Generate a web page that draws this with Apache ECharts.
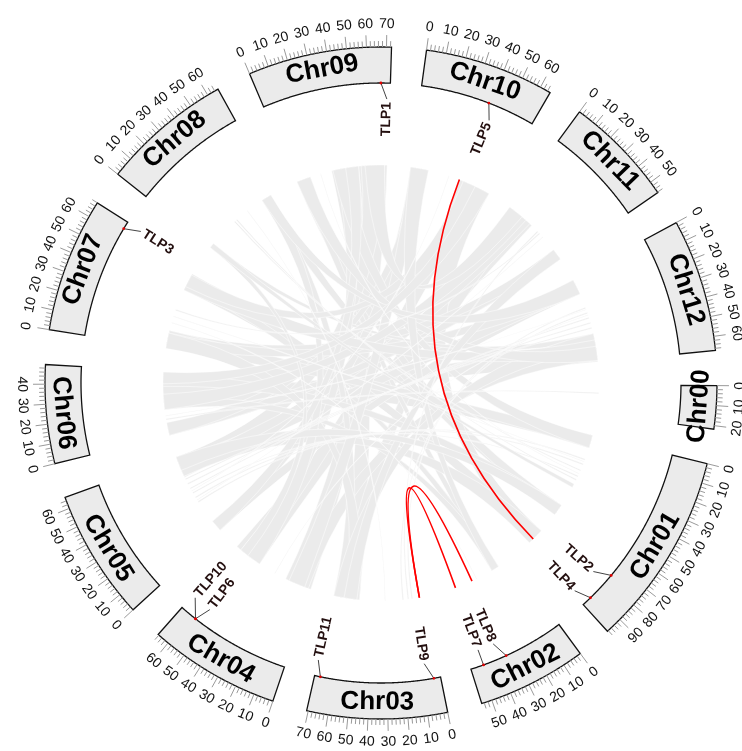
<!DOCTYPE html>
<html>
<head>
<meta charset="utf-8">
<script src="https://cdn.jsdelivr.net/npm/echarts@6/dist/echarts.min.js"></script>
<style>
  html, body { margin: 0; padding: 0; background: #ffffff; }
  #chart { width: 742px; height: 751px; }
</style>
</head>
<body>
<div id="chart"></div>
<script>
// Chromosomes, clockwise from the right-hand side
const chrNames = ['Chr01', 'Chr02', 'Chr03', 'Chr04', 'Chr05', 'Chr06', 'Chr07',
                  'Chr08', 'Chr09', 'Chr10', 'Chr11', 'Chr12', 'Chr00'];
// Chromosome lengths in Mb
const chrLengths = [98.5, 55.3, 70.8, 66.5, 65.9, 49.8, 68.0, 65.9, 72.5, 65.5, 56.3, 67.1, 21.8];
// Gap between neighbouring chromosomes, in Mb of the angular scale
const gapMb = 17.5;
// Tick spacing along chromosomes (Mb)
const tickMinorStep = 2;
const tickMajorStep = 10;

// TLP genes: chromosome, position (Mb), and where the label leader ends (Mb)
const geneNames    = ['TLP1', 'TLP2', 'TLP3', 'TLP4', 'TLP5', 'TLP6', 'TLP7', 'TLP8', 'TLP9', 'TLP10', 'TLP11'];
const geneChr      = ['Chr09', 'Chr01', 'Chr07', 'Chr01', 'Chr10', 'Chr04', 'Chr02', 'Chr02', 'Chr03', 'Chr04', 'Chr03'];
const genePos      = [67.2, 75.9, 63.7, 92.9, 38.8, 56.7, 47.9, 34.2, 3.8, 56.7, 67.5];
const geneLabelPos = [70.7, 80.9, 67.5, 96.7, 42.6, 53.4, 47.9, 38.3, 7.9, 64.5, 70.7];

// Segmentally duplicated TLP gene pairs
const duplicatedPairs = [['TLP5', 'TLP4'], ['TLP9', 'TLP7'], ['TLP9', 'TLP8']];

// Collinear blocks across the genome: [chrA, startA, endA, chrB, startB, endB] (Mb)
const syntenyBlocks = [
  ['Chr06', 20, 35, 'Chr12', 48, 67],
  ['Chr06', 33, 49, 'Chr01', 0, 10],
  ['Chr06', 25, 40, 'Chr10', 45, 60],
  ['Chr04', 44, 66, 'Chr11', 0, 22],
  ['Chr04', 48, 62, 'Chr10', 40, 55],
  ['Chr03', 50, 70, 'Chr09', 29, 50],
  ['Chr03', 55, 68, 'Chr11', 2, 16],
  ['Chr04', 0, 21, 'Chr09', 50, 72],
  ['Chr04', 2, 15, 'Chr12', 52, 66],
  ['Chr01', 59, 68, 'Chr08', 54, 62],
  ['Chr01', 59, 68, 'Chr09', 1, 12],
  ['Chr01', 84, 97, 'Chr10', 39, 64],
  ['Chr01', 86, 96, 'Chr07', 47, 61],
  ['Chr02', 11, 17, 'Chr09', 3, 10],
  ['Chr02', 11, 17, 'Chr07', 50, 58],
  ['Chr05', 0, 9, 'Chr10', 0, 14],
  ['Chr05', 0, 9, 'Chr12', 1, 13],
  ['Chr05', 49, 66, 'Chr09', 52, 70],
  ['Chr05', 50, 64, 'Chr12', 2, 12],
  ['Chr05', 52, 62, 'Chr11', 8, 20],
  ['Chr06', 0, 10, 'Chr11', 47, 56],
  ['Chr06', 0, 10, 'Chr10', 3, 12],
  ['Chr07', 0, 14, 'Chr11', 47, 56],
  ['Chr07', 0, 14, 'Chr01', 0, 10],
  ['Chr07', 2, 12, 'Chr12', 3, 13],
  ['Chr08', 0, 4, 'Chr12', 45, 50],
  ['Chr09', 32, 46, 'Chr04', 50, 60],
  ['Chr08', 54, 62, 'Chr03', 60, 70],
  ['Chr02', 11, 17, 'Chr06', 20, 28],
  ['Chr01', 0, 10, 'Chr09', 30, 42],
  ['Chr01', 59, 68, 'Chr06', 38, 48],
  ['Chr01', 84, 97, 'Chr05', 50, 62],
  ['Chr03', 50, 62, 'Chr07', 0, 12],
  ['Chr03', 58, 70, 'Chr12', 45, 58],
  ['Chr04', 44, 58, 'Chr08', 54, 62],
  ['Chr04', 5, 18, 'Chr10', 0, 12],
  ['Chr05', 0, 9, 'Chr09', 40, 50],
  ['Chr06', 20, 32, 'Chr11', 4, 16],
  ['Chr07', 47, 61, 'Chr12', 50, 62],
  ['Chr07', 50, 60, 'Chr10', 42, 56],
  ['Chr09', 1, 12, 'Chr12', 55, 66],
  ['Chr09', 55, 70, 'Chr11', 0, 12],
  ['Chr10', 0, 14, 'Chr02', 11, 17],
  ['Chr11', 47, 56, 'Chr03', 52, 62],
  ['Chr12', 1, 13, 'Chr08', 54, 62],
  ['Chr08', 0, 4, 'Chr04', 55, 62],
  ['Chr06', 40, 49, 'Chr10', 52, 64],
  ['Chr05', 55, 66, 'Chr01', 59, 68],
  ['Chr01', 19, 20, 'Chr05', 27, 28],
  ['Chr01', 23, 24, 'Chr05', 31, 32],
  ['Chr01', 28, 29, 'Chr08', 27, 28],
  ['Chr01', 33, 34, 'Chr05', 35, 36],
  ['Chr01', 36, 37, 'Chr08', 29, 30],
  ['Chr01', 40, 43, 'Chr08', 0, 4],
  ['Chr03', 9, 10, 'Chr12', 24, 25],
  ['Chr03', 12, 13, 'Chr11', 28, 29],
  ['Chr03', 16, 17, 'Chr12', 28, 29],
  ['Chr05', 39, 40, 'Chr12', 32, 33],
  ['Chr05', 43, 44, 'Chr12', 36, 37],
  ['Chr05', 47, 48, 'Chr12', 40, 41],
  ['Chr00', 6, 7, 'Chr06', 12, 13],
  ['Chr11', 30, 31, 'Chr07', 30, 31],
  ['Chr12', 25.5, 26, 'Chr06', 15, 15.5],
  ['Chr12', 30, 30.5, 'Chr04', 30, 30.5],
  ['Chr01', 21, 21.5, 'Chr07', 25, 25.5],
  ['Chr01', 31, 31.5, 'Chr09', 20, 20.5],
  ['Chr05', 29, 29.5, 'Chr11', 34, 34.5],
  ['Chr05', 37, 37.5, 'Chr10', 30, 30.5],
  ['Chr08', 40, 40.5, 'Chr03', 30, 30.5],
  ['Chr07', 20, 20.5, 'Chr02', 30, 30.5]
];

// Track radii, in radius-axis units (1 unit = 1 px)
const R_LINK = 218;
const R_GENE_TEXT = 281;
const R_GENE_LEAD = 284;
const R_IN = 300;
const R_OUT = 336;
const R_CHR_TEXT = 319;
const TICK_MAJOR = 12;
const TICK_MINOR = 6;
const R_TICK_TEXT = 359;

const FONT = '"Liberation Sans", Arial, Helvetica, sans-serif';

// Cumulative layout along the angle axis
const chrStart = {};
const chrLen = {};
let cursor = 0;
chrNames.forEach((n, i) => {
  chrStart[n] = cursor;
  chrLen[n] = chrLengths[i];
  cursor += chrLengths[i] + gapMb;
});
const totalSpan = cursor;
const gpos = (chr, mb) => chrStart[chr] + mb;

// Compass angle (deg, clockwise from 12 o'clock) of a pixel point about the centre
function compass(api, p) {
  const c = api.coord([0, 0]);
  const a = Math.atan2(p[0] - c[0], c[1] - p[1]) * 180 / Math.PI;
  return (a + 360) % 360;
}
// Text laid along the circle, kept upright
function tangentRot(theta) {
  let phi = theta;
  if (theta > 90 && theta <= 270) phi = theta - 180;
  else if (theta > 270) phi = theta - 360;
  return -phi * Math.PI / 180;
}
// Text laid along the radius, kept upright; reports if it reads inward
function radialRot(theta) {
  let phi = theta - 90;
  let inward = false;
  if (phi > 90) { phi -= 180; inward = true; }
  if (phi <= -90) { phi += 180; inward = true; }
  return { rot: -phi * Math.PI / 180, inward };
}

function arcPoints(api, r, a0, a1, step) {
  const n = Math.max(2, Math.ceil(Math.abs(a1 - a0) / step));
  const pts = [];
  for (let k = 0; k <= n; k++) pts.push(api.coord([r, a0 + (a1 - a0) * k / n]));
  return pts;
}

function renderRibbon(params, api) {
  const b = syntenyBlocks[params.dataIndex];
  const a1 = gpos(b[0], b[1]), a2 = gpos(b[0], b[2]);
  const b1 = gpos(b[3], b[4]), b2 = gpos(b[3], b[5]);
  const c = api.coord([0, 0]);
  const arcA = arcPoints(api, R_LINK, a1, a2, 0.5);
  const arcB = arcPoints(api, R_LINK, b1, b2, 0.5);
  let d = 'M' + arcA[0][0] + ' ' + arcA[0][1];
  for (let k = 1; k < arcA.length; k++) d += 'L' + arcA[k][0] + ' ' + arcA[k][1];
  d += 'Q' + c[0] + ' ' + c[1] + ' ' + arcB[0][0] + ' ' + arcB[0][1];
  for (let k = 1; k < arcB.length; k++) d += 'L' + arcB[k][0] + ' ' + arcB[k][1];
  d += 'Q' + c[0] + ' ' + c[1] + ' ' + arcA[0][0] + ' ' + arcA[0][1] + 'Z';
  return {
    type: 'path',
    shape: { pathData: d },
    style: { fill: '#ebebeb', stroke: '#ffffff', lineWidth: 0.5 }
  };
}

function renderPair(params, api) {
  const pr = duplicatedPairs[params.dataIndex];
  const ia = geneNames.indexOf(pr[0]), ib = geneNames.indexOf(pr[1]);
  const p1 = api.coord([R_LINK, gpos(geneChr[ia], genePos[ia])]);
  const p2 = api.coord([R_LINK, gpos(geneChr[ib], genePos[ib])]);
  const c = api.coord([0, 0]);
  return {
    type: 'bezierCurve',
    shape: { x1: p1[0], y1: p1[1], x2: p2[0], y2: p2[1], cpx1: c[0], cpy1: c[1] },
    style: { stroke: '#ff0000', lineWidth: 1.6, fill: null }
  };
}

function renderChr(params, api) {
  const name = chrNames[params.dataIndex];
  const s = chrStart[name], e = s + chrLen[name];
  const outer = arcPoints(api, R_OUT, s, e, 0.5);
  const inner = arcPoints(api, R_IN, e, s, 0.5);
  const mid = api.coord([R_CHR_TEXT, (s + e) / 2]);
  return {
    type: 'group',
    children: [
      {
        type: 'polygon',
        shape: { points: outer.concat(inner) },
        style: { fill: '#ebebeb', stroke: '#111111', lineWidth: 1.3 }
      },
      {
        type: 'text',
        x: mid[0], y: mid[1],
        rotation: tangentRot(compass(api, mid)),
        style: {
          text: name, font: 'bold 26px ' + FONT, fill: '#000000',
          align: 'center', verticalAlign: 'middle'
        }
      }
    ]
  };
}

function renderTicks(params, api) {
  const name = chrNames[params.dataIndex];
  const s = chrStart[name], len = chrLen[name];
  const children = [];
  for (let v = 0; v <= len + 1e-6; v += tickMinorStep) {
    const major = v % tickMajorStep === 0;
    const p0 = api.coord([R_OUT, s + v]);
    const p1 = api.coord([R_OUT + (major ? TICK_MAJOR : TICK_MINOR), s + v]);
    children.push({
      type: 'line',
      shape: { x1: p0[0], y1: p0[1], x2: p1[0], y2: p1[1] },
      style: { stroke: '#9a9a9a', lineWidth: 1 }
    });
    if (major) {
      const pt = api.coord([R_TICK_TEXT, s + v]);
      children.push({
        type: 'text',
        x: pt[0], y: pt[1],
        rotation: tangentRot(compass(api, pt)),
        style: {
          text: String(v), font: '14px ' + FONT, fill: '#111111',
          align: 'center', verticalAlign: 'middle'
        }
      });
    }
  }
  return { type: 'group', children };
}

function renderGene(params, api) {
  const i = params.dataIndex;
  const chr = geneChr[i];
  const pm = api.coord([R_IN, gpos(chr, genePos[i])]);
  const pl = api.coord([R_GENE_LEAD, gpos(chr, geneLabelPos[i])]);
  const pt = api.coord([R_GENE_TEXT, gpos(chr, geneLabelPos[i])]);
  const rr = radialRot(compass(api, pt));
  return {
    type: 'group',
    children: [
      {
        type: 'line',
        shape: { x1: pm[0], y1: pm[1], x2: pl[0], y2: pl[1] },
        style: { stroke: '#444444', lineWidth: 1 }
      },
      {
        type: 'circle',
        shape: { cx: pm[0], cy: pm[1], r: 1.4 },
        style: { fill: '#e00000' }
      },
      {
        type: 'text',
        x: pt[0], y: pt[1],
        rotation: rr.rot,
        style: {
          text: geneNames[i], font: 'bold 14px ' + FONT, fill: '#241010',
          align: rr.inward ? 'left' : 'right', verticalAlign: 'middle'
        }
      }
    ]
  };
}

const chart = echarts.init(document.getElementById('chart'), null, { renderer: 'canvas' });

chart.setOption({
  backgroundColor: '#ffffff',
  animation: false,
  polar: { center: [381, 383], radius: 400 },
  angleAxis: {
    type: 'value', min: 0, max: totalSpan, startAngle: -13.9, clockwise: true,
    show: false
  },
  radiusAxis: { type: 'value', min: 0, max: 400, show: false },
  series: [
    {
      type: 'custom', coordinateSystem: 'polar', silent: true,
      renderItem: renderRibbon,
      data: syntenyBlocks.map(b => [R_LINK, gpos(b[0], b[1])])
    },
    {
      type: 'custom', coordinateSystem: 'polar', silent: true,
      renderItem: renderPair,
      data: duplicatedPairs.map(() => [R_LINK, 0])
    },
    {
      type: 'custom', coordinateSystem: 'polar', silent: true,
      renderItem: renderChr,
      data: chrNames.map(n => [R_IN, chrStart[n]])
    },
    {
      type: 'custom', coordinateSystem: 'polar', silent: true,
      renderItem: renderTicks,
      data: chrNames.map(n => [R_OUT, chrStart[n]])
    },
    {
      type: 'custom', coordinateSystem: 'polar', silent: true,
      renderItem: renderGene,
      data: geneNames.map((g, i) => [R_IN, gpos(geneChr[i], genePos[i])])
    }
  ]
});
</script>
</body>
</html>
